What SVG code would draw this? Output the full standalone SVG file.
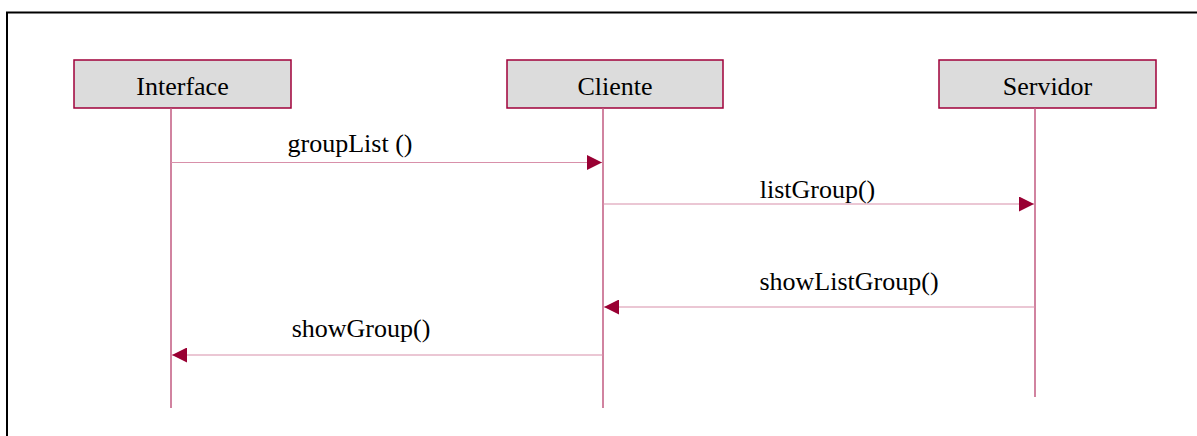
<svg xmlns="http://www.w3.org/2000/svg" width="1197" height="436" viewBox="0 0 1197 436">
  <style>
    .frame { fill: none; stroke: #000; stroke-width: 2; }
    .obj rect { fill: #dcdcdc; stroke: #a0003a; stroke-width: 1.5; }
    .obj text, .msg text { font-family: "Liberation Serif", "Times New Roman", serif; font-size: 26px; fill: #000; text-anchor: middle; }
    .life { stroke: #c25a80; stroke-width: 1.5; }
    .msg line { stroke: #d890aa; stroke-width: 1.2; }
  </style>
  <defs>
    <marker id="arrow" viewBox="0 0 15 15" refX="15" refY="7.5" markerWidth="15" markerHeight="15" markerUnits="userSpaceOnUse" orient="auto">
      <path d="M0,0 L15,7.5 L0,15 Z" fill="#990033"/>
    </marker>
  </defs>

  <!-- outer frame -->
  <rect class="frame" x="7" y="12.5" width="1200" height="440"/>

  <!-- lifeline objects -->
  <g id="interface" class="obj">
    <rect x="74" y="60" width="217" height="48"/>
    <text x="182.5" y="95">Interface</text>
    <line class="life" x1="171" y1="108" x2="171" y2="408"/>
  </g>
  <g id="cliente" class="obj">
    <rect x="507" y="60" width="216" height="48"/>
    <text x="615" y="95">Cliente</text>
    <line class="life" x1="603" y1="108" x2="603" y2="408"/>
  </g>
  <g id="servidor" class="obj">
    <rect x="939" y="60" width="217" height="48"/>
    <text x="1047.5" y="95">Servidor</text>
    <line class="life" x1="1035" y1="108" x2="1035" y2="397"/>
  </g>

  <!-- messages -->
  <g id="connectors" class="msg">
    <line x1="171" y1="162.5" x2="602" y2="162.5" marker-end="url(#arrow)"/>
    <text x="350" y="152">groupList ()</text>

    <line x1="603" y1="204" x2="1034" y2="204" marker-end="url(#arrow)"/>
    <text x="817.5" y="198">listGroup()</text>

    <line x1="1035" y1="307" x2="604" y2="307" marker-end="url(#arrow)"/>
    <text x="849" y="290">showListGroup()</text>

    <line x1="603" y1="355" x2="172" y2="355" marker-end="url(#arrow)"/>
    <text x="361" y="337">showGroup()</text>
  </g>
</svg>
